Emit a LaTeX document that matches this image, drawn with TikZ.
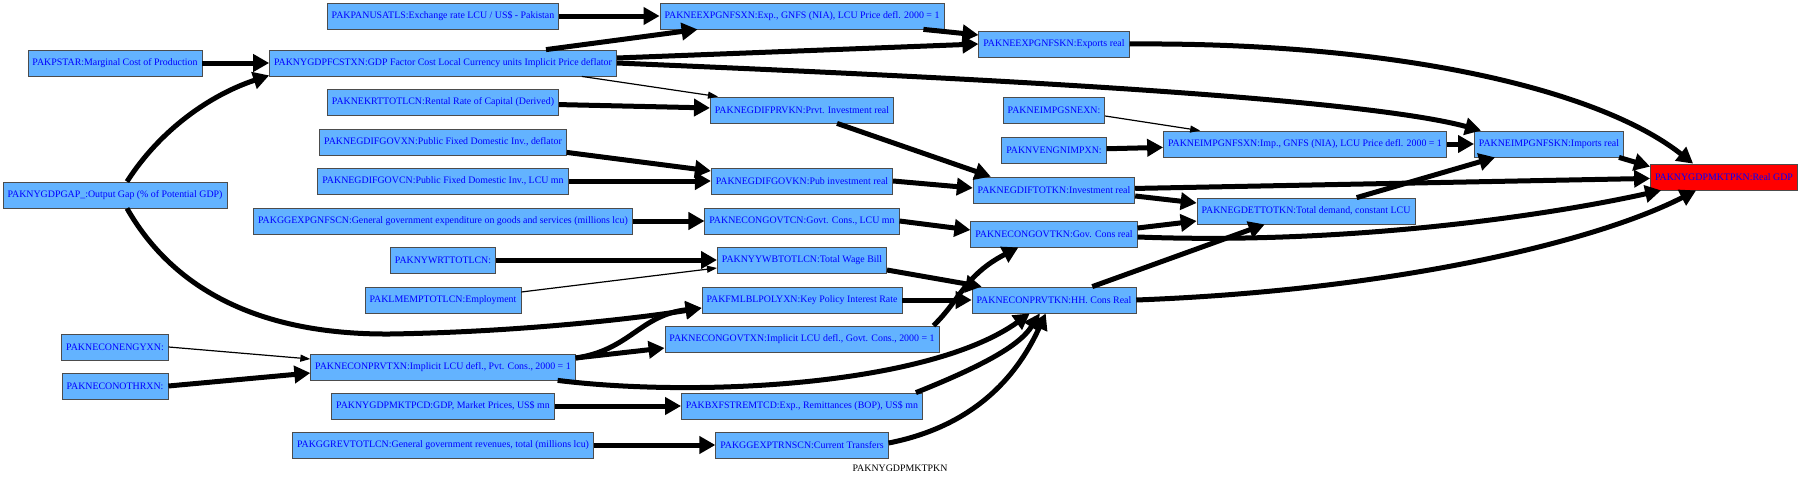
\documentclass[tikz,border=0pt]{standalone}
\usepackage{fontspec}
\setmainfont{Liberation Serif}
\usetikzlibrary{arrows.meta}
\definecolor{boxblue}{RGB}{99,179,255}
\definecolor{txtblue}{RGB}{0,0,255}

\begin{document}
\begin{tikzpicture}[x=1pt,y=-1pt,>={Triangle[length=16pt,width=17pt]},
  var/.style={draw=black!70,line width=0.8pt,fill=boxblue,text=txtblue,font=\fontsize{9.9}{11}\selectfont,minimum height=26pt,inner xsep=4.5pt,inner ysep=0pt},
  goal/.style={var,fill=red},
  strong/.style={->,line width=5pt},
  weak/.style={-{Triangle[length=10pt,width=7pt]},line width=1.2pt}]
  \useasboundingbox (0,0) rectangle (1800,479);
  \node[var] (PAKPANUSATLS) at (443,16) {PAKPANUSATLS:Exchange rate LCU / US\$ - Pakistan};
  \node[var] (PAKNEEXPGNFSXN) at (802,16) {PAKNEEXPGNFSXN:Exp., GNFS (NIA), LCU Price defl. 2000 = 1};
  \node[var] (PAKNEEXPGNFSKN) at (1054,44) {PAKNEEXPGNFSKN:Exports real};
  \node[var] (PAKPSTAR) at (115,63) {PAKPSTAR:Marginal Cost of Production};
  \node[var] (PAKNYGDPFCSTXN) at (443,63) {PAKNYGDPFCSTXN:GDP Factor Cost Local Currency units Implicit Price deflator};
  \node[var] (PAKNEKRTTOTLCN) at (443,102) {PAKNEKRTTOTLCN:Rental Rate of Capital (Derived)};
  \node[var] (PAKNEGDIFPRVKN) at (802,110) {PAKNEGDIFPRVKN:Prvt. Investment real};
  \node[var] (PAKNEIMPGSNEXN) at (1054,110) {PAKNEIMPGSNEXN:};
  \node[var] (PAKNVENGNIMPXN) at (1054,150) {PAKNVENGNIMPXN:};
  \node[var] (PAKNEIMPGNFSXN) at (1305,144) {PAKNEIMPGNFSXN:Imp., GNFS (NIA), LCU Price defl. 2000 = 1};
  \node[var] (PAKNEIMPGNFSKN) at (1549,144) {PAKNEIMPGNFSKN:Imports real};
  \node[goal] (PAKNYGDPMKTPKN) at (1724,177) {PAKNYGDPMKTPKN:Real GDP};
  \node[var] (PAKNEGDIFGOVXN) at (443,142) {PAKNEGDIFGOVXN:Public Fixed Domestic Inv., deflator};
  \node[var] (PAKNEGDIFGOVCN) at (443,181) {PAKNEGDIFGOVCN:Public Fixed Domestic Inv., LCU mn};
  \node[var] (PAKNEGDIFGOVKN) at (802,181) {PAKNEGDIFGOVKN:Pub investment real};
  \node[var] (PAKNEGDIFTOTKN) at (1054,190) {PAKNEGDIFTOTKN:Investment real};
  \node[var] (PAKNEGDETTOTKN) at (1306,211) {PAKNEGDETTOTKN:Total demand, constant LCU};
  \node[var] (PAKNYGDPGAP) at (115,195) {PAKNYGDPGAP\_:Output Gap (\% of Potential GDP)};
  \node[var] (PAKGGEXPGNFSCN) at (443,221) {PAKGGEXPGNFSCN:General government expenditure on goods and services (millions lcu)};
  \node[var] (PAKNECONGOVTCN) at (802,221) {PAKNECONGOVTCN:Govt. Cons., LCU mn};
  \node[var] (PAKNECONGOVTKN) at (1054,234) {PAKNECONGOVTKN:Gov. Cons real};
  \node[var] (PAKNYWRTTOTLCN) at (443,260) {PAKNYWRTTOTLCN:};
  \node[var] (PAKNYYWBTOTLCN) at (802,260) {PAKNYYWBTOTLCN:Total Wage Bill};
  \node[var] (PAKLMEMPTOTLCN) at (443,300) {PAKLMEMPTOTLCN:Employment};
  \node[var] (PAKFMLBLPOLYXN) at (802,300) {PAKFMLBLPOLYXN:Key Policy Interest Rate};
  \node[var] (PAKNECONPRVTKN) at (1054,300) {PAKNECONPRVTKN:HH. Cons Real};
  \node[var] (PAKNECONENGYXN) at (115,347) {PAKNECONENGYXN:};
  \node[var] (PAKNECONOTHRXN) at (115,386) {PAKNECONOTHRXN:};
  \node[var] (PAKNECONPRVTXN) at (443,367) {PAKNECONPRVTXN:Implicit LCU defl., Pvt. Cons., 2000 = 1};
  \node[var] (PAKNECONGOVTXN) at (802,339) {PAKNECONGOVTXN:Implicit LCU defl., Govt. Cons., 2000 = 1};
  \node[var] (PAKNYGDPMKTPCD) at (443,406) {PAKNYGDPMKTPCD:GDP, Market Prices, US\$ mn};
  \node[var] (PAKBXFSTREMTCD) at (802,406) {PAKBXFSTREMTCD:Exp., Remittances (BOP), US\$ mn};
  \node[var] (PAKGGREVTOTLCN) at (443,445) {PAKGGREVTOTLCN:General government revenues, total (millions lcu)};
  \node[var] (PAKGGEXPTRNSCN) at (802,445) {PAKGGEXPTRNSCN:Current Transfers};
  \node[font=\fontsize{9.9}{11}\selectfont] (caption) at (900,468) {PAKNYGDPMKTPKN};

  \draw[strong] (PAKPANUSATLS) -- (PAKNEEXPGNFSXN);
  \draw[strong] ([xshift=103pt]PAKNYGDPFCSTXN.north) -- ([xshift=38pt]PAKNEEXPGNFSXN.south west);
  \draw[strong] ([xshift=-21pt]PAKNEEXPGNFSXN.south east) -- ([yshift=9pt]PAKNEEXPGNFSKN.west);
  \draw[strong] ([yshift=5pt]PAKNYGDPFCSTXN.east) -- (PAKNEEXPGNFSKN.west);
  \draw[strong] (PAKNYGDPFCSTXN.east) .. controls (900,75) and (1350,95) .. ([xshift=7pt]PAKNEIMPGNFSKN.north west);
  \draw[weak] ([xshift=-35pt]PAKNYGDPFCSTXN.south east) -- ([xshift=8pt]PAKNEGDIFPRVKN.north west);
  \draw[strong] (PAKPSTAR) -- (PAKNYGDPFCSTXN);
  \draw[strong] ([xshift=12pt]PAKNYGDPGAP.north) .. controls (160,130) and (210,95) .. ([yshift=1pt]PAKNYGDPFCSTXN.south west);
  \draw[strong] ([xshift=12pt]PAKNYGDPGAP.south) .. controls (165,275) and (240,335) .. (390,334) .. controls (520,332) and (640,318) .. ([yshift=-8pt]PAKFMLBLPOLYXN.west);
  \draw[strong] (PAKNEEXPGNFSKN.east) .. controls (1400,42) and (1600,90) .. ([xshift=43pt]PAKNYGDPMKTPKN.north west);
  \draw[strong] (PAKNEKRTTOTLCN) -- (PAKNEGDIFPRVKN);
  \draw[strong] ([xshift=-57pt]PAKNEGDIFPRVKN.south east) -- ([xshift=18pt]PAKNEGDIFTOTKN.north west);
  \draw[weak] ([yshift=-6pt]PAKNEIMPGSNEXN.east) -- ([xshift=37pt]PAKNEIMPGNFSXN.north west);
  \draw[strong] (PAKNVENGNIMPXN) -- (PAKNEIMPGNFSXN);
  \draw[strong] (PAKNEIMPGNFSXN) -- (PAKNEIMPGNFSKN);
  \draw[strong] ([xshift=-5pt]PAKNEIMPGNFSKN.south east) -- ([yshift=-3pt]PAKNYGDPMKTPKN.north west);
  \draw[strong] (PAKNEGDIFTOTKN) -- (PAKNYGDPMKTPKN);
  \draw[strong] ([yshift=-6pt]PAKNEGDIFTOTKN.east) -- ([yshift=8pt]PAKNEGDETTOTKN.west);
  \draw[strong] ([yshift=6pt]PAKNECONGOVTKN.east) -- ([yshift=-10pt]PAKNEGDETTOTKN.west);
  \draw[strong] ([yshift=-3pt]PAKNECONGOVTKN.east) .. controls (1350,245) and (1550,215) .. ([xshift=11pt]PAKNYGDPMKTPKN.south west);
  \draw[strong] (PAKNECONPRVTKN.east) .. controls (1400,290) and (1600,240) .. ([xshift=46pt]PAKNYGDPMKTPKN.south west);
  \draw[strong] ([xshift=-44pt]PAKNECONPRVTKN.north east) -- ([xshift=68pt]PAKNEGDETTOTKN.south west);
  \draw[strong] ([xshift=160pt]PAKNEGDETTOTKN.north west) -- ([xshift=21pt]PAKNEIMPGNFSKN.south west);
  \draw[strong] ([yshift=3pt]PAKNEGDIFGOVXN.south east) -- ([yshift=10pt]PAKNEGDIFGOVKN.west);
  \draw[strong] (PAKNEGDIFGOVCN) -- (PAKNEGDIFGOVKN);
  \draw[strong] (PAKNEGDIFGOVKN.east) -- ([yshift=2pt]PAKNEGDIFTOTKN.west);
  \draw[strong] (PAKGGEXPGNFSCN) -- (PAKNECONGOVTCN);
  \draw[strong] (PAKNECONGOVTCN.east) -- ([yshift=4pt]PAKNECONGOVTKN.west);
  \draw[strong] (PAKNYWRTTOTLCN) -- (PAKNYYWBTOTLCN);
  \draw[weak] ([yshift=8pt]PAKLMEMPTOTLCN.east) -- ([yshift=-8pt]PAKNYYWBTOTLCN.west);
  \draw[strong] ([yshift=-10pt]PAKNYYWBTOTLCN.east) -- ([xshift=10pt]PAKNECONPRVTKN.north west);
  \draw[strong] (PAKFMLBLPOLYXN) -- (PAKNECONPRVTKN);
  \draw[strong] ([xshift=-6pt]PAKNECONGOVTXN.north east) .. controls (960,300) and (965,275) .. ([xshift=48pt]PAKNECONGOVTKN.south west);
  \draw[weak] (PAKNECONENGYXN.east) -- ([yshift=8pt]PAKNECONPRVTXN.west);
  \draw[strong] (PAKNECONOTHRXN.east) -- ([yshift=-6pt]PAKNECONPRVTXN.west);
  \draw[strong] ([yshift=9pt]PAKNECONPRVTXN.east) .. controls (630,350) and (640,315) .. ([yshift=-8pt]PAKFMLBLPOLYXN.west);
  \draw[strong] ([yshift=9pt]PAKNECONPRVTXN.east) -- ([yshift=-9pt]PAKNECONGOVTXN.west);
  \draw[strong] ([xshift=-18pt]PAKNECONPRVTXN.south east) .. controls (700,398) and (930,385) .. ([xshift=58pt]PAKNECONPRVTKN.south west);
  \draw[strong] (PAKNYGDPMKTPCD) -- (PAKBXFSTREMTCD);
  \draw[strong] ([xshift=-7pt]PAKBXFSTREMTCD.north east) .. controls (985,365) and (1020,345) .. ([xshift=68pt]PAKNECONPRVTKN.south west);
  \draw[strong] (PAKGGREVTOTLCN) -- (PAKGGEXPTRNSCN);
  \draw[strong] ([yshift=2pt]PAKGGEXPTRNSCN.east) .. controls (980,425) and (1020,370) .. ([xshift=74pt]PAKNECONPRVTKN.south west);
\end{tikzpicture}
\end{document}
